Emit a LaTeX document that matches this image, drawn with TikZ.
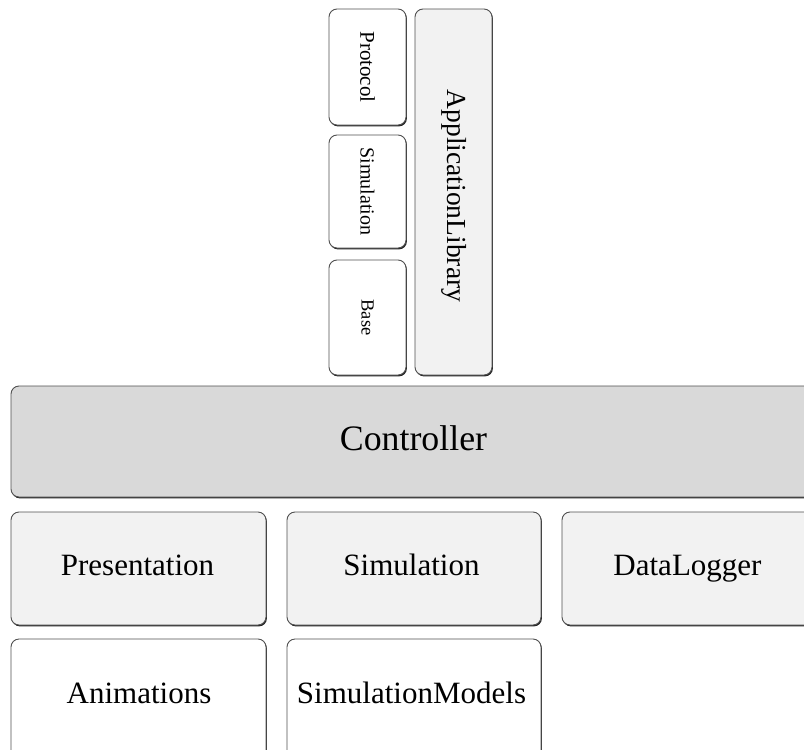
\documentclass[tikz,border=0pt]{standalone}
\usepackage{fontspec}
\setmainfont{Liberation Serif}
\usetikzlibrary{shadows}
\definecolor{ctrlgray}{HTML}{D9D9D9}
\definecolor{lightbox}{HTML}{F2F2F2}
\definecolor{edgegray}{HTML}{505050}
\tikzset{
  module/.style={draw=edgegray, line width=0.9pt, rounded corners=8pt, inner sep=0pt,
    drop shadow={shadow xshift=0.9pt, shadow yshift=-1.4pt, fill=black!85, opacity=1}},
  txt/.style={inner sep=0pt, font=\fontsize{#1}{#1}\selectfont},
}
\begin{document}
\begin{tikzpicture}[x=1pt, y=-1pt]
  \useasboundingbox (0,0) rectangle (804,750);
  \clip (0,0) rectangle (804,750);

  % library column
  \node[module, fill=white, minimum width=77pt, minimum height=116pt] (protocol) at (367.5,67) {};
  \node[module, fill=white, minimum width=77pt, minimum height=113pt] (libsim) at (367.5,191.5) {};
  \node[module, fill=white, minimum width=77pt, minimum height=115pt] (base) at (367.5,317.5) {};
  \node[module, fill=lightbox, minimum width=77pt, minimum height=366pt] (applib) at (453.5,192) {};
  \node[txt=21, rotate=-90] (protocolT) at (protocol.center) {Protocol};
  \node[txt=20, rotate=-90] (libsimT) at (libsim.center) {Simulation};
  \node[txt=18.5, rotate=-90] (baseT) at (base.center) {Base};
  \node[txt=27.5, rotate=-90] (applibT) at (454,196) {ApplicationLibrary};

  % controller bar
  \node[module, fill=ctrlgray, minimum width=810pt, minimum height=111pt] (controller) at (416,441.5) {};
  \node[txt=35.8, anchor=base] (controllerT) at (413.5,450) {Controller};

  % middle row
  \node[module, fill=lightbox, minimum width=255pt, minimum height=113pt] (presentation) at (138.5,568.5) {};
  \node[module, fill=lightbox, minimum width=254pt, minimum height=113pt] (simulation) at (414,568.5) {};
  \node[module, fill=lightbox, minimum width=260pt, minimum height=113pt] (datalogger) at (692,568.5) {};
  \node[txt=31, anchor=base] (presentationT) at (137.5,575) {Presentation};
  \node[txt=31, anchor=base] (simulationT) at (411.5,575) {Simulation};
  \node[txt=31, anchor=base] (dataloggerT) at (687.5,575) {DataLogger};

  % bottom row
  \node[module, fill=white, minimum width=255pt, minimum height=120pt] (animations) at (138.5,699) {};
  \node[module, fill=white, minimum width=254pt, minimum height=120pt] (simmodels) at (414,699) {};
  \node[txt=31, anchor=base] (animationsT) at (139,703) {Animations};
  \node[txt=31, anchor=base] (simmodelsT) at (411.5,703) {SimulationModels};
\end{tikzpicture}
\end{document}
